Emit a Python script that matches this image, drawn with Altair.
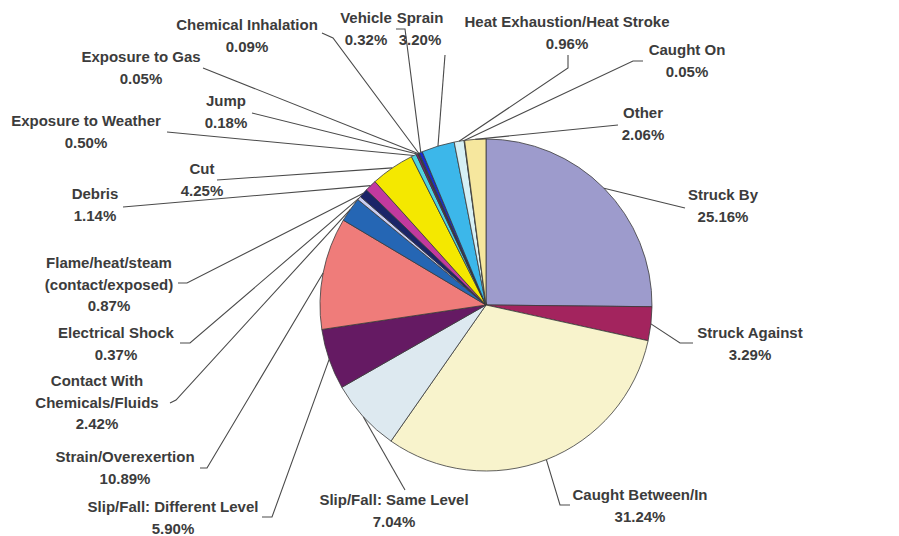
import altair as alt
import pandas as pd
import numpy as np

# ---------------- data ----------------
categories = [
    "Struck By", "Struck Against", "Caught Between/In", "Slip/Fall: Same Level",
    "Slip/Fall: Different Level", "Strain/Overexertion", "Contact With Chemicals/Fluids",
    "Electrical Shock", "Flame/heat/steam (contact/exposed)", "Debris", "Cut",
    "Exposure to Weather", "Jump", "Exposure to Gas", "Chemical Inhalation", "Vehicle",
    "Sprain", "Heat Exhaustion/Heat Stroke", "Caught On", "Other",
]
percents = [25.16, 3.29, 31.24, 7.04, 5.90, 10.89, 2.42, 0.37, 0.87, 1.14, 4.25,
            0.50, 0.18, 0.05, 0.09, 0.32, 3.20, 0.96, 0.05, 2.06]
label_names = [
    "Struck By", "Struck Against", "Caught Between/In", "Slip/Fall: Same Level",
    "Slip/Fall: Different Level", "Strain/Overexertion", "Contact With\nChemicals/Fluids",
    "Electrical Shock", "Flame/heat/steam\n(contact/exposed)", "Debris", "Cut",
    "Exposure to Weather", "Jump", "Exposure to Gas", "Chemical Inhalation", "Vehicle",
    "Sprain", "Heat Exhaustion/Heat Stroke", "Caught On", "Other",
]

# ---------------- styles / layout ----------------
colors = ["#9d9bcc", "#a3245e", "#f8f3cc", "#dde9f0", "#651a63", "#ef7c7a", "#2566b4",
          "#c9cdf2", "#1b2468", "#c2399f", "#f4e800", "#4fd3e0", "#7a1f7a", "#7a1b1b",
          "#1b7373", "#1a2ad0", "#3cb7ea", "#d6f0f5", "#cfeecf", "#f6e79e"]
W, H = 899, 536
CX, CY, R = 486, 305, 166
# (x centre, y of first text line)
label_pos = [
    (723, 195), (750, 333), (640, 495), (394, 500), (173, 507), (125, 457),
    (97, 381), (116, 333), (109, 263), (95, 194), (202, 169), (86, 121),
    (226, 101), (141, 57), (247, 25), (366, 18), (420, 18), (567, 22), (687, 50),
    (643, 113),
]
leader_start = [
    [(685, 208)], [(693, 343), (680, 343)], [(570, 505), (560, 505)], [(405, 490)],
    [(262, 517), (272, 517)], [(200, 468), (207, 468)], [(170, 403), (176, 400)],
    [(180, 343), (190, 343)], [(178, 283), (187, 283)], [(123, 207)], [(217, 180)],
    [(167, 132)], [(252, 113)], [(203, 68)], [(322, 33), (333, 38)],
    [(396, 29), (405, 29)], [(445, 55)], [(568, 55), (568, 68)], [(643, 61), (633, 61)],
    [(618, 125)],
]

n = len(categories)
vals = np.array(percents)
mid = (np.cumsum(vals) - vals / 2) / vals.sum() * 2 * np.pi
edge_x = CX + R * np.sin(mid)
edge_y = CY - R * np.cos(mid)

pie_df = pd.DataFrame({"cat": categories, "value": percents, "idx": range(n)})

rows = []
for i, cat in enumerate(categories):
    pts = list(leader_start[i]) + [(edge_x[i], edge_y[i])]
    for k, (px, py) in enumerate(pts):
        rows.append({"cat": cat, "k": k, "x": px, "y": py})
line_df = pd.DataFrame(rows)

text_df = pd.DataFrame({
    "cat": categories,
    "label": [f"{nm}\n{p:.2f}%" for nm, p in zip(label_names, percents)],
    "x": [p[0] for p in label_pos],
    "y": [p[1] for p in label_pos],
})

xs = alt.Scale(domain=[0, W], nice=False, zero=False)
ys = alt.Scale(domain=[H, 0], nice=False, zero=False)

pie = alt.Chart(pie_df).mark_arc(outerRadius=R, stroke="#3a3a3a", strokeWidth=0.8).encode(
    theta=alt.Theta("value:Q", stack=True),
    order=alt.Order("idx:Q"),
    color=alt.Color("cat:N", scale=alt.Scale(domain=categories, range=colors), legend=None),
    x=alt.value(CX),
    y=alt.value(CY),
)

leaders = alt.Chart(line_df).mark_line(color="#4a4a4a", strokeWidth=1.1).encode(
    x=alt.X("x:Q", scale=xs, axis=None),
    y=alt.Y("y:Q", scale=ys, axis=None),
    detail="cat:N",
    order="k:Q",
)

texts = alt.Chart(text_df).mark_text(
    lineBreak="\n", align="center", baseline="middle", font="Liberation Sans",
    fontSize=15, fontWeight="bold", color="#3c3c3c", lineHeight=21.5,
).encode(
    x=alt.X("x:Q", scale=xs, axis=None),
    y=alt.Y("y:Q", scale=ys, axis=None),
    text="label:N",
)

chart = alt.layer(pie, leaders, texts).properties(
    width=W, height=H, padding=0, autosize=alt.AutoSizeParams(type="none"),
    background="white",
).configure_view(stroke=None)

chart.save("out.html", embed_options={"renderer": "svg", "actions": False})
